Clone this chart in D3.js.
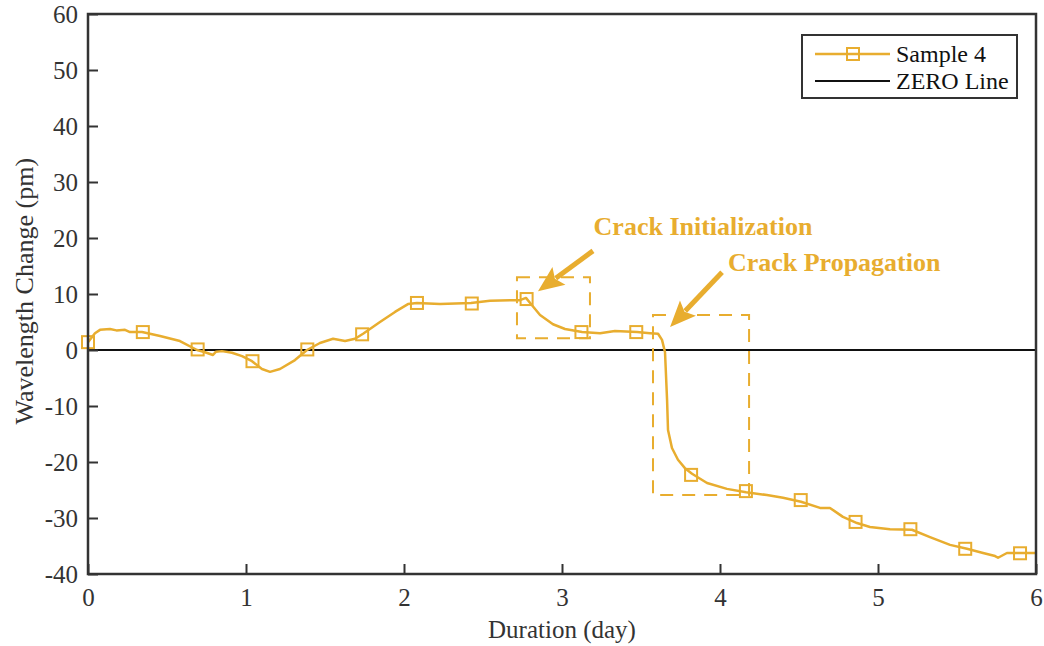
<!DOCTYPE html>
<html>
<head>
<meta charset="utf-8">
<script src="https://cdn.jsdelivr.net/npm/d3@7"></script>
<style>
  body { margin: 0; background: #fff; }
  text { font-family: "Liberation Serif", "Times New Roman", serif; }
</style>
</head>
<body>
<div id="chart"></div>
<script>
// curve
const days = [0, 0.044, 0.076, 0.139, 0.180, 0.234, 0.266, 0.342, 0.456, 0.582, 0.690, 0.741, 0.791, 0.810, 0.848, 0.911, 0.975,
  1.038, 1.101, 1.152, 1.215, 1.310, 1.386, 1.468, 1.551, 1.627, 1.690, 1.741, 1.848, 1.943,
  2.025, 2.082, 2.228, 2.424, 2.544, 2.671, 2.734, 2.772, 2.810, 2.861, 2.943,
  3.019, 3.127, 3.241, 3.335, 3.475, 3.557, 3.608, 3.633, 3.652, 3.665, 3.671, 3.696, 3.734, 3.778, 3.823, 3.918,
  4.044, 4.165, 4.297, 4.399, 4.513, 4.633, 4.696, 4.778, 4.867, 4.949,
  5.076, 5.215, 5.329, 5.456, 5.563, 5.665, 5.741, 5.760, 5.816, 5.905, 6.0];
const wavelength = [1.4, 3.0, 3.6, 3.75, 3.5, 3.6, 3.2, 3.2, 2.5, 1.6, 0, -0.4, -0.9, -0.3, -0.2, -0.5, -1.1,
  -2.0, -3.4, -3.9, -3.4, -1.8, 0, 1.25, 2.0, 1.6, 2.0, 2.9, 5.0, 6.8,
  8.2, 8.4, 8.2, 8.4, 8.8, 8.9, 8.9, 9.3, 8.0, 6.25, 4.6,
  3.75, 3.2, 3.0, 3.4, 3.2, 3.0, 2.9, 1.8, -0.4, -8.9, -14.3, -17.5, -19.6, -21.1, -22.1, -23.75,
  -24.8, -25.4, -25.9, -26.4, -27.1, -28.2, -28.2, -29.8, -30.9, -31.6,
  -32.0, -32.1, -33.4, -34.8, -35.5, -36.25, -36.8, -37.1, -36.25, -36.25, -36.25];

// square markers
const markerDays = [0, 0.347, 0.694, 1.041, 1.388, 1.735, 2.082, 2.429, 2.776, 3.123, 3.47, 3.817, 4.164, 4.511, 4.858, 5.205, 5.552, 5.899];
const markerValues = [1.4, 3.2, 0.1, -2.0, 0.1, 2.8, 8.4, 8.3, 9.1, 3.2, 3.2, -22.3, -25.2, -26.8, -30.7, -32.0, -35.5, -36.3];

const xTicks = [0, 1, 2, 3, 4, 5, 6];
const yTicks = [-40, -30, -20, -10, 0, 10, 20, 30, 40, 50, 60];

// dashed boxes [day0, day1, val0, val1]
const boxes = [[2.715, 3.177, 2.1, 13.0], [3.576, 4.184, -25.9, 6.25]];
const annotations = [
  { label: "Crack Initialization", tail: [3.196, 17.7], tip: [2.848, 10.5], text: [3.20, 20.5] },
  { label: "Crack Propagation", tail: [4.013, 13.9], tip: [3.684, 4.1], text: [4.05, 14.1] }
];

const gold = "#E8AD2F";
const ink = "#333";

const W = 1044, H = 646;
const margin = { top: 14, right: 8, bottom: 72, left: 88 };
const width = W - margin.left - margin.right,
      height = H - margin.top - margin.bottom;

const svg = d3.select("#chart").append("svg")
    .attr("width", W).attr("height", H);
const g = svg.append("g")
    .attr("transform", `translate(${margin.left},${margin.top})`);

const x = d3.scaleLinear().domain([0, 6]).range([0, width]);
const y = d3.scaleLinear().domain([-40, 60]).range([height, 0]);

// zero line
g.append("line")
    .attr("x1", 0).attr("x2", width)
    .attr("y1", y(0)).attr("y2", y(0))
    .attr("stroke", "#111").attr("stroke-width", 2);

// dashed boxes
boxes.forEach(b => {
  g.append("rect")
      .attr("x", x(b[0])).attr("y", y(b[3]))
      .attr("width", x(b[1]) - x(b[0]))
      .attr("height", y(b[2]) - y(b[3]))
      .attr("fill", "none").attr("stroke", gold)
      .attr("stroke-width", 2).attr("stroke-dasharray", "13,9");
});

// main curve
const data = days.map((d, i) => ({ d: d, v: wavelength[i] }));
g.append("path")
    .datum(data)
    .attr("d", d3.line().x(p => x(p.d)).y(p => y(p.v)))
    .attr("fill", "none").attr("stroke", gold)
    .attr("stroke-width", 2.5).attr("stroke-linejoin", "round");

g.selectAll("rect.mk")
    .data(markerDays.map((d, i) => ({ d: d, v: markerValues[i] })))
    .enter().append("rect")
    .attr("class", "mk")
    .attr("x", p => x(p.d) - 6).attr("y", p => y(p.v) - 6)
    .attr("width", 12).attr("height", 12)
    .attr("fill", "none").attr("stroke", gold).attr("stroke-width", 2);

// arrows + labels
annotations.forEach(a => {
  const x1 = x(a.tail[0]), y1 = y(a.tail[1]), x2 = x(a.tip[0]), y2 = y(a.tip[1]);
  const ang = Math.atan2(y2 - y1, x2 - x1);
  const hl = 26, hw = 11;
  const bx = x2 - hl * Math.cos(ang), by = y2 - hl * Math.sin(ang);
  g.append("line")
      .attr("x1", x1).attr("y1", y1).attr("x2", bx + 4 * Math.cos(ang)).attr("y2", by + 4 * Math.sin(ang))
      .attr("stroke", gold).attr("stroke-width", 5);
  g.append("path")
      .attr("d", `M${x2},${y2}L${bx + hw * Math.sin(ang)},${by - hw * Math.cos(ang)}L${bx + 5 * Math.cos(ang)},${by + 5 * Math.sin(ang)}L${bx - hw * Math.sin(ang)},${by + hw * Math.cos(ang)}Z`)
      .attr("fill", gold);
  g.append("text")
      .attr("x", x(a.text[0])).attr("y", y(a.text[1]))
      .attr("fill", gold).style("font-size", "26px").style("font-weight", "bold")
      .text(a.label);
});

// axes box
g.append("rect")
    .attr("width", width).attr("height", height)
    .attr("fill", "none").attr("stroke", ink).attr("stroke-width", 2.5);

const xAxis = g.append("g")
    .attr("transform", `translate(0,${height})`)
    .call(d3.axisBottom(x).tickValues(xTicks).tickSize(-10).tickPadding(14).tickFormat(d => String(d)));
const yAxis = g.append("g")
    .call(d3.axisLeft(y).tickValues(yTicks).tickSize(-10).tickPadding(10).tickFormat(d => String(d)));
[xAxis, yAxis].forEach(ax => {
  ax.select(".domain").remove();
  ax.selectAll(".tick line").attr("stroke", ink).attr("stroke-width", 2);
  ax.selectAll(".tick text").attr("fill", ink)
      .style("font-family", "Liberation Serif, serif").style("font-size", "25px");
});
yAxis.selectAll(".tick text").attr("dy", "0.35em");

g.append("text")
    .attr("x", width / 2).attr("y", height + 64)
    .attr("text-anchor", "middle").attr("fill", ink)
    .style("font-size", "25px").text("Duration (day)");
g.append("text")
    .attr("transform", "rotate(-90)")
    .attr("x", -y(10.5)).attr("y", -55)
    .attr("text-anchor", "middle").attr("fill", ink)
    .style("font-size", "26px").text("Wavelength Change (pm)");

// legend
const lg = svg.append("g").attr("transform", "translate(802,35)");
lg.append("rect").attr("width", 215).attr("height", 63)
    .attr("fill", "#fff").attr("stroke", ink).attr("stroke-width", 2);
lg.append("line").attr("x1", 13).attr("x2", 88).attr("y1", 19).attr("y2", 19)
    .attr("stroke", gold).attr("stroke-width", 2.5);
lg.append("rect").attr("x", 45).attr("y", 13).attr("width", 12).attr("height", 12)
    .attr("fill", "none").attr("stroke", gold).attr("stroke-width", 2);
lg.append("line").attr("x1", 13).attr("x2", 88).attr("y1", 46).attr("y2", 46)
    .attr("stroke", "#111").attr("stroke-width", 2);
lg.append("text").attr("x", 94).attr("y", 27).attr("fill", "#111")
    .style("font-size", "24px").text("Sample 4");
lg.append("text").attr("x", 94).attr("y", 54).attr("fill", "#111")
    .style("font-size", "24px").text("ZERO Line");
</script>
</body>
</html>
